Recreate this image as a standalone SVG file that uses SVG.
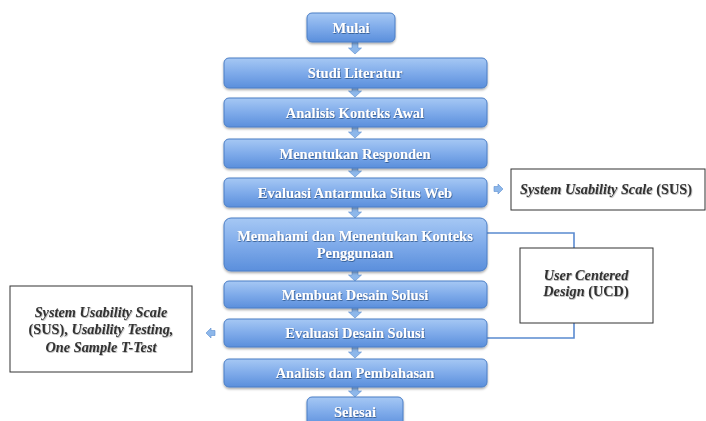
<svg xmlns="http://www.w3.org/2000/svg" width="706" height="421" viewBox="0 0 706 421">
<defs>
<linearGradient id="g" x1="0" y1="0" x2="0" y2="1">
<stop offset="0" stop-color="#a6c8f4"/>
<stop offset="0.5" stop-color="#7fabea"/>
<stop offset="1" stop-color="#5b8fdc"/>
</linearGradient>
<filter id="sh" x="-10%" y="-20%" width="120%" height="150%">
<feDropShadow dx="0" dy="1.5" stdDeviation="1.2" flood-color="#000" flood-opacity="0.35"/>
</filter>
<filter id="ts" x="-10%" y="-30%" width="120%" height="160%">
<feDropShadow dx="0.6" dy="0.8" stdDeviation="0.6" flood-color="#1d3f70" flood-opacity="0.8"/>
</filter>
<filter id="ts2" x="-10%" y="-30%" width="120%" height="160%">
<feDropShadow dx="0.6" dy="0.8" stdDeviation="0.6" flood-color="#000" flood-opacity="0.35"/>
</filter>
<path id="arr" d="M-3,-7 H3 V-1 H6.5 L0,5 L-6.5,-1 H-3 Z"/>
<path id="arr2" d="M-2.5,-5 H2.5 V-1 H5 L0,4 L-5,-1 H-2.5 Z"/>
</defs>
<style>
.box{fill:url(#g);stroke:#4b7ec6;stroke-width:1;filter:url(#sh)}
.t{font-family:"Liberation Serif",serif;font-weight:bold;font-size:14.5px;fill:#fff;text-anchor:middle;filter:url(#ts)}
.a{fill:#8db7ea;stroke:#5d8fd0;stroke-width:0.6}
.nb{fill:#fff;stroke:#333;stroke-width:1}
.nt{font-family:"Liberation Serif",serif;font-weight:bold;font-size:14.3px;fill:#333;text-anchor:middle;filter:url(#ts2)}
.ln{fill:none;stroke:#5a8ad0;stroke-width:1.6}
</style>
<rect width="706" height="421" fill="#fff"/>
<g id="connectors">
<use href="#arr" class="a" x="355" y="49"/>
<use href="#arr" class="a" x="355" y="92"/>
<use href="#arr" class="a" x="355" y="133"/>
<use href="#arr" class="a" x="355" y="172"/>
<use href="#arr" class="a" x="355" y="213"/>
<use href="#arr" class="a" x="355" y="276"/>
<use href="#arr" class="a" x="355" y="313"/>
<use href="#arr" class="a" x="355" y="353"/>
<use href="#arr" class="a" x="355" y="392"/>
<use href="#arr2" class="a" transform="translate(499,189) rotate(-90)"/>
<use href="#arr2" class="a" transform="translate(210,333) rotate(90)"/>
<path class="ln" d="M487,233 H574 V248"/>
<path class="ln" d="M574,323 V338 H487"/>
</g>
<g id="mulai"><rect class="box" x="307" y="13" width="88" height="29" rx="5"/><text class="t" x="351" y="32.5">Mulai</text></g>
<g id="studi"><rect class="box" x="224" y="58" width="263" height="30" rx="5"/><text class="t" x="355" y="78">Studi Literatur</text></g>
<g id="analisis-awal"><rect class="box" x="224" y="98" width="263" height="29" rx="5"/><text class="t" x="355" y="117.5">Analisis Konteks Awal</text></g>
<g id="responden"><rect class="box" x="224" y="139" width="263" height="29" rx="5"/><text class="t" x="355" y="158.5">Menentukan Responden</text></g>
<g id="evaluasi-web"><rect class="box" x="224" y="178" width="263" height="29" rx="5"/><text class="t" x="355" y="197.5">Evaluasi Antarmuka Situs Web</text></g>
<g id="memahami"><rect class="box" x="224" y="218" width="263" height="53" rx="7"/><text class="t" x="355" y="241">Memahami dan Menentukan Konteks</text><text class="t" x="355" y="258">Penggunaan</text></g>
<g id="membuat"><rect class="box" x="224" y="281" width="263" height="27" rx="5"/><text class="t" x="355" y="299.5">Membuat Desain Solusi</text></g>
<g id="evaluasi-desain"><rect class="box" x="224" y="319" width="263" height="28" rx="5"/><text class="t" x="355" y="338">Evaluasi Desain Solusi</text></g>
<g id="pembahasan"><rect class="box" x="224" y="359" width="263" height="28" rx="5"/><text class="t" x="355" y="378">Analisis dan Pembahasan</text></g>
<g id="selesai"><rect class="box" x="307" y="397" width="96" height="30" rx="5"/><text class="t" x="355" y="417">Selesai</text></g>
<g id="sus"><rect class="nb" x="511" y="169" width="194" height="41"/><text class="nt" x="606" y="194"><tspan font-style="italic">System Usability Scale</tspan> (SUS)</text></g>
<g id="ucd"><rect class="nb" x="520" y="248" width="133" height="75"/><text class="nt" x="586" y="280" font-style="italic">User Centered</text><text class="nt" x="586" y="296"><tspan font-style="italic">Design</tspan> (UCD)</text></g>
<g id="testing"><rect class="nb" x="10" y="286" width="182" height="86"/><text class="nt" x="101" y="317" font-style="italic">System Usability Scale</text><text class="nt" x="101" y="334">(SUS), <tspan font-style="italic">Usability Testing,</tspan></text><text class="nt" x="101" y="352" font-style="italic">One Sample T-Test</text></g>
</svg>
